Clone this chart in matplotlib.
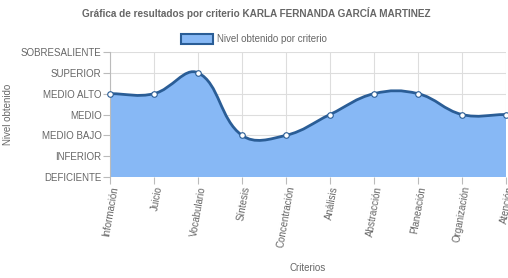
import numpy as np
import matplotlib.pyplot as plt
from matplotlib.path import Path
from matplotlib.patches import PathPatch, Patch

# ------------------ DATA ------------------
criterios = ["Información", "Juicio", "Vocabulario", "Síntesis", "Concentración",
             "Análisis", "Abstracción", "Planeación", "Organización", "Atención"]
niveles = [4, 4, 5, 2, 2, 3, 4, 4, 3, 3]
nivel_labels = ["DEFICIENTE", "INFERIOR", "MEDIO BAJO", "MEDIO",
                "MEDIO ALTO", "SUPERIOR", "SOBRESALIENTE"]

FILL = "#87b8f5"
LINE = "#2a5d96"
TXT = "#666666"
FS = 7
plt.rcParams['font.family'] = ['Liberation Sans', 'DejaVu Sans']

fig = plt.figure(figsize=(5.08, 2.78), dpi=100)
ax = fig.add_axes([110 / 508, 1 - 177 / 278, 396 / 508, 125 / 278])

x = np.arange(len(criterios))
ax.set_xlim(0, len(criterios) - 1)
ax.set_ylim(0, len(nivel_labels) - 1)

# ------------------ CHART.JS STYLE SPLINE ------------------
pts = ax.transData.transform(np.column_stack([x, niveles]))
t = 0.4
verts = [tuple(pts[0])]
codes = [Path.MOVETO]
ctrl = []
for i in range(len(pts)):
    prev = pts[i - 1] if i > 0 else pts[i]
    nxt = pts[i + 1] if i < len(pts) - 1 else pts[i]
    cur = pts[i]
    d01 = np.hypot(*(cur - prev))
    d12 = np.hypot(*(nxt - cur))
    tot = d01 + d12
    s01 = d01 / tot if tot else 0
    s12 = d12 / tot if tot else 0
    ctrl.append((cur - t * s01 * (nxt - prev), cur + t * s12 * (nxt - prev)))
for i in range(1, len(pts)):
    verts += [tuple(ctrl[i - 1][1]), tuple(ctrl[i][0]), tuple(pts[i])]
    codes += [Path.CURVE4] * 3
inv = ax.transData.inverted()
dverts = inv.transform(np.array(verts))

line_path = Path(dverts, codes)
fill_verts = list(dverts) + [(x[-1], 0), (x[0], 0), tuple(dverts[0])]
fill_codes = codes + [Path.LINETO, Path.LINETO, Path.CLOSEPOLY]
ax.add_patch(PathPatch(Path(fill_verts, fill_codes), facecolor=FILL,
                       edgecolor="none", zorder=2))
ax.add_patch(PathPatch(line_path, facecolor="none", edgecolor=LINE,
                       lw=2, zorder=3))
ax.scatter(x, niveles, s=16, facecolor="white", edgecolor=LINE,
           linewidth=0.8, zorder=4, clip_on=False)

# ------------------ AXES ------------------
ax.set_yticks(range(len(nivel_labels)))
ax.set_yticklabels(nivel_labels, fontsize=FS, color=TXT)
ax.set_xticks(x)
ax.set_xticklabels(criterios, fontsize=FS, color=TXT, rotation=80,
                   ha="right", va="top", rotation_mode="anchor")
ax.tick_params(axis="both", length=5, color="#bbbbbb", width=0.8, pad=1)
ax.grid(True, color="#dddddd", lw=0.8, zorder=1)
ax.set_axisbelow(True)
for s in ["top", "right", "bottom"]:
    ax.spines[s].set_visible(False)
ax.spines["left"].set_color("#bbbbbb")

ax.set_ylabel("Nivel obtenido", fontsize=FS, color=TXT)
ax.yaxis.set_label_coords(-97 / 396, 0.5)
fig.text(308 / 508, 1 - 268 / 278, "Criterios", fontsize=FS, color=TXT,
         ha="center", va="center")
fig.text(256 / 508, 1 - 13 / 278,
         "Gráfica de resultados por criterio KARLA FERNANDA GARCÍA MARTINEZ",
         fontsize=7.2, fontweight="bold", color=TXT, ha="center", va="center")

leg = fig.legend(handles=[Patch(facecolor=FILL, edgecolor=LINE, lw=1.5,
                                label="Nivel obtenido por criterio")],
                 loc="center", bbox_to_anchor=(254 / 508, 1 - 39 / 278),
                 frameon=False, fontsize=FS, handlelength=3.3,
                 handleheight=1.2, handletextpad=0.4)
for txt in leg.get_texts():
    txt.set_color(TXT)

fig.savefig("out.png", dpi=100)
